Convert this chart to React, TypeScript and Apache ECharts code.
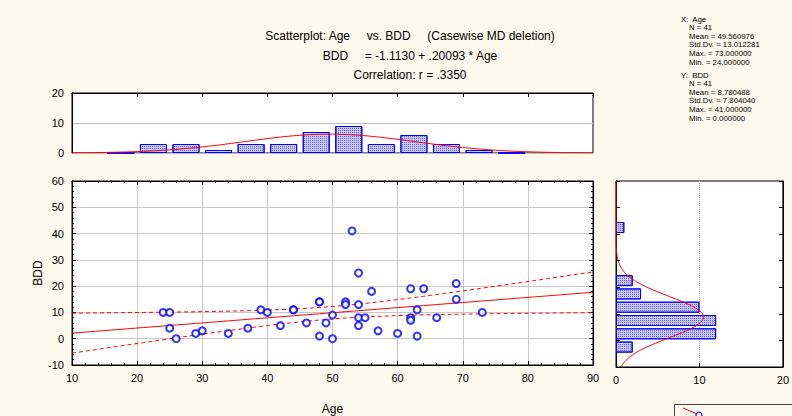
import React, { useEffect, useRef } from "react";
import * as echarts from "echarts";

// ---- Data ----
const ageValues = [24, 25, 25, 26, 29, 30, 34, 37, 39, 40, 42, 44, 44, 46, 48, 48, 48, 49, 50, 50, 52, 52, 53, 54, 54, 54, 54, 55, 56, 57, 60, 62, 62, 62, 63, 63, 64, 66, 69, 69, 73];
const bddValues = [10, 10, 4, 0, 2, 3, 2, 4, 11, 10, 5, 11, 11, 6, 14, 14, 1, 6, 9, 0, 14, 13, 41, 25, 13, 8, 5, 8, 18, 3, 2, 19, 8, 7, 11, 1, 19, 8, 21, 15, 10];

// Age histogram (bins of 5, starting 10..85); null = no bar drawn
const ageBinStarts = ["10", "15", "20", "25", "30", "35", "40", "45", "50", "55", "60", "65", "70", "75", "80", "85"];
const ageBinCounts = [null, 0, 3, 3, 1, 3, 3, 7, 9, 3, 6, 3, 1, 0, null, null];

// BDD histogram (bins of 5, starting -10..55)
const bddBinStarts = ["-10", "-5", "0", "5", "10", "15", "20", "25", "30", "35", "40", "45", "50", "55"];
const bddBinCounts = [null, 2, 12, 12, 10, 3, 2, null, null, null, 1, null, null, null];

// Descriptive statistics shown in the chart
const statN = 41;
const ageMean = 49.560976;
const ageSd = 13.012281;
const bddMean = 8.780488;
const bddSd = 7.80404;
const binWidth = 5;

const titleLines = [
  "Scatterplot: Age     vs. BDD     (Casewise MD deletion)",
  "BDD     = -1.1130 + .20093 * Age",
  "Correlation: r = .3350",
];
const xStatsLines = ["X:  Age", "N = 41", "Mean = 49.560976", "Std.Dv. = 13.012281", "Max. = 73.000000", "Min. = 24.000000"];
const yStatsLines = ["Y:  BDD", "N = 41", "Mean = 8.780488", "Std.Dv. = 7.804040", "Max. = 41.000000", "Min. = 0.000000"];

const BG = "#fdf9ed";
const FONT = "'Liberation Sans', Arial, sans-serif";

function normPdf(x: number, m: number, s: number) {
  const z = (x - m) / s;
  return Math.exp(-0.5 * z * z) / (s * Math.sqrt(2 * Math.PI));
}

export default function App() {
  const ref = useRef<HTMLDivElement>(null);
  useEffect(() => {
    if (!ref.current) return;
    const chart = echarts.init(ref.current, null, { renderer: "svg" });

    // regression from data
    const n = ageValues.length;
    const mx = ageValues.reduce((a, b) => a + b, 0) / n;
    const my = bddValues.reduce((a, b) => a + b, 0) / n;
    let sxx = 0, sxy = 0;
    for (let i = 0; i < n; i++) {
      sxx += (ageValues[i] - mx) ** 2;
      sxy += (ageValues[i] - mx) * (bddValues[i] - my);
    }
    const b = sxy / sxx;
    const a = my - b * mx;
    let sse = 0;
    for (let i = 0; i < n; i++) sse += (bddValues[i] - a - b * ageValues[i]) ** 2;
    const s = Math.sqrt(sse / (n - 2));
    const t = 2.0227;
    const fit: number[][] = [];
    const upper: number[][] = [];
    const lower: number[][] = [];
    for (let x = 10; x <= 90; x += 1) {
      const yh = a + b * x;
      const se = s * Math.sqrt(1 / n + (x - mx) ** 2 / sxx);
      fit.push([x, yh]);
      upper.push([x, yh + t * se]);
      lower.push([x, yh - t * se]);
    }
    const ageCurve: number[][] = [];
    for (let x = 10; x <= 90; x += 0.5) ageCurve.push([x, statN * binWidth * normPdf(x, ageMean, ageSd)]);
    const bddCurve: number[][] = [];
    for (let y = -10; y <= 60; y += 0.5) bddCurve.push([statN * binWidth * normPdf(y, bddMean, bddSd), y]);

    const scatterData = ageValues.map((v, i) => [v, bddValues[i]]);

    const lbl = { color: "#000", fontSize: 11, fontFamily: FONT };
    const blk = { color: "#000", width: 1 };
    const barStyle = {
      color: "#c9c9fb",
      borderColor: "#0000ff",
      borderWidth: 1,
      decal: {
        symbol: "rect",
        symbolSize: 1,
        dashArrayX: [1, 1],
        dashArrayY: [1, 1],
        color: "#5a5aff",
        rotation: 0,
      },
    };

    const graphics: any[] = [];
    const titleY = [36, 56, 75];
    titleLines.forEach((tx, i) => {
      graphics.push({
        type: "text",
        x: 410,
        y: titleY[i],
        style: { text: tx, fontSize: 12, fontFamily: FONT, fill: "#000", align: "center", verticalAlign: "middle" },
      });
    });
    const statBlock = (lines: string[], y0: number) => {
      lines.forEach((tx, i) => {
        graphics.push({
          type: "text",
          x: i === 0 ? 681 : 689,
          y: y0 + i * 8.6,
          style: { text: tx, fontSize: 7.8, lineHeight: 8, fontFamily: FONT, fill: "#000", align: "left", verticalAlign: "middle" },
        });
      });
    };
    statBlock(xStatsLines, 19);
    statBlock(yStatsLines, 75);
    graphics.push({
      type: "rect",
      shape: { x: 674.5, y: 404.5, width: 140, height: 30 },
      style: { fill: "none", stroke: "#404040", lineWidth: 1 },
    });
    graphics.push({
      type: "line",
      shape: { x1: 683, y1: 408, x2: 697, y2: 414 },
      style: { stroke: "#ff0000", lineWidth: 1 },
    });
    graphics.push({
      type: "circle",
      shape: { cx: 699, cy: 415, r: 3 },
      style: { fill: "none", stroke: "#0000ff", lineWidth: 1.1 },
    });

    const option: any = {
      animation: false,
      backgroundColor: BG,
      grid: [
        { left: 72, top: 181, width: 521, height: 186, show: true, backgroundColor: "#fff", borderColor: "#000", borderWidth: 1 },
        { left: 72, top: 93, width: 521, height: 60, show: true, backgroundColor: "#fff", borderColor: "#000", borderWidth: 1 },
        { left: 616, top: 181, width: 170, height: 186, show: true, backgroundColor: "#fff", borderColor: "#000", borderWidth: 1 },
      ],
      xAxis: [
        {
          gridIndex: 0, type: "value", min: 10, max: 90, interval: 10, position: "bottom",
          axisLine: { show: true, onZero: false, lineStyle: blk },
          axisTick: { show: true, inside: true, length: 4, lineStyle: blk },
          minorTick: { show: true, splitNumber: 5, length: 2, lineStyle: blk },
          splitLine: { show: true, lineStyle: { color: "#c8c8c8", width: 1 } },
          axisLabel: { ...lbl, margin: 7 },
          name: "Age", nameLocation: "middle", nameGap: 38,
          nameTextStyle: { color: "#000", fontSize: 12, fontFamily: FONT },
        },
        {
          gridIndex: 0, type: "value", min: 10, max: 90, interval: 10, position: "top",
          axisLine: { show: true, onZero: false, lineStyle: blk },
          axisTick: { show: true, inside: true, length: 4, lineStyle: blk },
          minorTick: { show: true, splitNumber: 5, length: 2, lineStyle: blk },
          splitLine: { show: false },
          axisLabel: { show: false },
        },
        {
          gridIndex: 1, type: "category", data: ageBinStarts, position: "top", boundaryGap: true,
          axisLine: { show: true, onZero: false, lineStyle: blk },
          axisTick: { show: true, inside: true, interval: 1, length: 4, lineStyle: blk },
          axisLabel: { show: false },
          splitLine: { show: false },
        },
        { gridIndex: 1, type: "value", min: 10, max: 90, show: false },
        {
          gridIndex: 2, type: "value", min: 0, max: 20, interval: 10, position: "bottom",
          axisLine: { show: true, onZero: false, lineStyle: blk },
          axisTick: { show: true, inside: true, length: 4, lineStyle: blk },
          splitLine: { show: true, lineStyle: { color: "#a8a8a8", type: "dotted", width: 1 } },
          axisLabel: { ...lbl, margin: 7 },
        },
      ],
      yAxis: [
        {
          gridIndex: 0, type: "value", min: -10, max: 60, interval: 10, position: "left",
          axisLine: { show: true, onZero: false, lineStyle: blk },
          axisTick: { show: true, inside: true, length: 4, lineStyle: blk },
          minorTick: { show: true, splitNumber: 5, length: 2, lineStyle: blk },
          splitLine: { show: true, lineStyle: { color: "#c8c8c8", width: 1 } },
          axisLabel: { ...lbl, margin: 8 },
          name: "BDD", nameLocation: "middle", nameGap: 28, nameMoveOverlap: false,
          nameTextStyle: { color: "#000", fontSize: 12, fontFamily: FONT },
        },
        {
          gridIndex: 0, type: "value", min: -10, max: 60, interval: 10, position: "right",
          axisLine: { show: true, onZero: false, lineStyle: blk },
          axisTick: { show: true, inside: true, length: 4, lineStyle: blk },
          minorTick: { show: true, splitNumber: 5, length: 2, lineStyle: blk },
          splitLine: { show: false },
          axisLabel: { show: false },
        },
        {
          gridIndex: 1, type: "value", min: 0, max: 20, interval: 10, position: "left",
          axisLine: { show: true, onZero: false, lineStyle: blk },
          axisTick: { show: false },
          splitLine: { show: true, lineStyle: { color: "#c0c0c0", width: 1 } },
          axisLabel: { ...lbl, margin: 8 },
        },
        {
          gridIndex: 2, type: "category", data: bddBinStarts, position: "left", boundaryGap: true,
          axisLine: { show: true, onZero: false, lineStyle: blk },
          axisTick: { show: true, inside: true, interval: 1, length: 4, lineStyle: blk },
          axisLabel: { show: false },
          splitLine: { show: false },
        },
        {
          gridIndex: 2, type: "value", min: -10, max: 60, interval: 10, position: "right",
          axisLine: { show: true, onZero: false, lineStyle: blk },
          axisTick: { show: true, inside: true, length: 4, lineStyle: blk },
          splitLine: { show: false },
          axisLabel: { show: false },
        },
      ],
      series: [
        {
          type: "line", xAxisIndex: 0, yAxisIndex: 0, data: upper, symbol: "none",
          lineStyle: { color: "#ff0000", width: 1, type: [4, 3] }, z: 3,
        },
        {
          type: "line", xAxisIndex: 0, yAxisIndex: 0, data: lower, symbol: "none",
          lineStyle: { color: "#ff0000", width: 1, type: [4, 3] }, z: 3,
        },
        {
          type: "line", xAxisIndex: 0, yAxisIndex: 0, data: fit, symbol: "none",
          lineStyle: { color: "#ff0000", width: 1 }, z: 3,
        },
        {
          type: "scatter", xAxisIndex: 0, yAxisIndex: 0, data: scatterData,
          symbol: "emptyCircle", symbolSize: 7,
          itemStyle: { color: "#0000ff", borderColor: "#0000ff", borderWidth: 1 }, z: 5,
        },
        {
          type: "bar", xAxisIndex: 2, yAxisIndex: 2, data: ageBinCounts, barWidth: 27,
          itemStyle: barStyle,
        },
        {
          type: "line", xAxisIndex: 3, yAxisIndex: 2, data: ageCurve, symbol: "none",
          lineStyle: { color: "#ff0000", width: 1 }, z: 4,
        },
        {
          type: "bar", xAxisIndex: 4, yAxisIndex: 3, data: bddBinCounts, barWidth: 11,
          itemStyle: barStyle,
        },
        {
          type: "line", xAxisIndex: 4, yAxisIndex: 4, data: bddCurve, symbol: "none",
          lineStyle: { color: "#ff0000", width: 1 }, z: 4,
        },
      ],
      graphic: graphics,
    };
    chart.setOption(option);
    return () => chart.dispose();
  }, []);
  return (
    <div
      ref={ref}
      style={{ position: "fixed", left: 0, top: 0, width: 792, height: 416 }}
    />
  );
}
